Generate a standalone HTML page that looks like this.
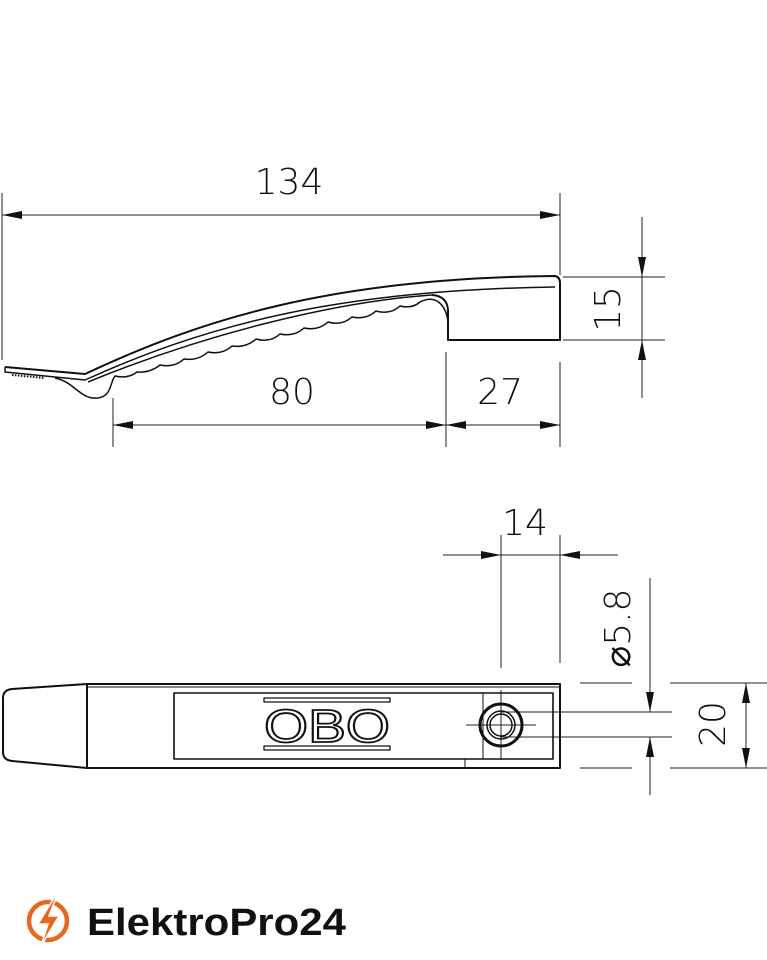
<!DOCTYPE html>
<html><head><meta charset="utf-8"><style>
html,body{margin:0;padding:0;background:#fff;width:767px;height:960px;overflow:hidden}
svg{display:block}
.t{font-family:"DejaVu Sans","Liberation Sans",sans-serif;font-weight:200;fill:#111}
</style></head><body>
<svg width="767" height="960" viewBox="0 0 767 960" xmlns="http://www.w3.org/2000/svg">
<defs>
<marker id="a" viewBox="0 0 10 4" refX="10" refY="2" markerWidth="28" markerHeight="8" markerUnits="userSpaceOnUse" orient="auto-start-reverse"><path d="M0,0 L10,2 L0,4z" fill="#111"/></marker>
</defs>
<g stroke="#222" stroke-width="1" fill="none">
<line x1="2" y1="193" x2="2" y2="360"/>
<line x1="560" y1="193" x2="560" y2="275"/>
<line x1="2" y1="215" x2="560" y2="215" marker-start="url(#a)" marker-end="url(#a)"/>
<line x1="113" y1="398" x2="113" y2="447"/>
<line x1="446" y1="352" x2="446" y2="447"/>
<line x1="560" y1="362" x2="560" y2="447"/>
<line x1="113" y1="425" x2="446" y2="425" marker-start="url(#a)" marker-end="url(#a)"/>
<line x1="446" y1="425" x2="560" y2="425" marker-start="url(#a)" marker-end="url(#a)"/>
<line x1="563" y1="277" x2="665" y2="277"/>
<line x1="563" y1="340" x2="665" y2="340"/>
<line x1="642" y1="217" x2="642" y2="277" marker-end="url(#a)"/>
<line x1="642" y1="398" x2="642" y2="340" marker-end="url(#a)"/>
<line x1="642" y1="277" x2="642" y2="340"/>
</g>
<g stroke="#111" stroke-width="2" fill="none" stroke-linejoin="round">
<path d="M5,367 L85,374 C200,320 330,278 555,276 Q560,277 560,283 L560,340 L448,340 L448,310 Q447,296 432,295"/>
<path d="M5,367 L5,372 L85,380 C200,328 330,290 555,287" stroke-width="1.5"/>
<path d="M88,382 C200,336 330,302 432,295" stroke-width="1.5"/>
<path d="M55,378 C75,382 80,400 98,398 C112,396 110,382 115,376 Q128,379 137,372 Q150,373 160,365 Q174,368 184,359 Q198,361 208,352 Q222,355 232,346 Q246,348 256,339 Q270,343 280,334 Q294,337 304,328 Q318,331 328,322 Q342,326 352,317 Q366,320 376,311 Q390,315 400,306 Q412,309 420,302 C436,294 446,305 448,322" stroke-width="1.5"/>
<path d="M12,375 L45,378" stroke-width="2" stroke-dasharray="1.5 1.5"/>
</g>
<text class="t" x="289" y="194" font-size="36" text-anchor="middle">134</text>
<text class="t" x="292" y="404" font-size="36" text-anchor="middle">80</text>
<text class="t" x="500" y="404" font-size="36" text-anchor="middle">27</text>
<text class="t" font-size="36" text-anchor="middle" transform="translate(620,309) rotate(-90)">15</text>

<g stroke="#222" stroke-width="1" fill="none">
<line x1="501" y1="535" x2="501" y2="668"/>
<line x1="560" y1="535" x2="560" y2="663"/>
<line x1="443" y1="555" x2="501" y2="555" marker-end="url(#a)"/>
<line x1="618" y1="555" x2="560" y2="555" marker-end="url(#a)"/>
<line x1="501" y1="555" x2="560" y2="555"/>
<line x1="500" y1="712" x2="672" y2="712"/>
<line x1="500" y1="737" x2="672" y2="737"/>
<line x1="650" y1="578" x2="650" y2="712" marker-end="url(#a)"/>
<line x1="650" y1="795" x2="650" y2="737" marker-end="url(#a)"/>
<line x1="580" y1="683" x2="632" y2="683"/>
<line x1="670" y1="683" x2="767" y2="683"/>
<line x1="580" y1="768" x2="632" y2="768"/>
<line x1="670" y1="768" x2="767" y2="768"/>
<line x1="746" y1="683" x2="746" y2="768" marker-start="url(#a)" marker-end="url(#a)"/>
<line x1="466" y1="725" x2="536" y2="725"/>
<line x1="501" y1="690" x2="501" y2="760"/>
</g>
<text class="t" x="525" y="535" font-size="36" text-anchor="middle">14</text>
<text class="t" font-size="36" text-anchor="middle" transform="translate(630,628) rotate(-90)">⌀5.8</text>
<text class="t" font-size="36" text-anchor="middle" transform="translate(725,724) rotate(-90)">20</text>

<g stroke="#111" fill="none" stroke-linejoin="round">
<path d="M87,684 L12,689 Q3,690 3,698 L3,752 Q3,760 12,761 L87,768" stroke-width="2"/>
<rect x="87" y="684" width="473" height="84" stroke-width="2"/>
<line x1="87" y1="687" x2="560" y2="687" stroke-width="1"/>
<rect x="174" y="693" width="379" height="66" stroke-width="1.6"/>
<line x1="483" y1="693" x2="483" y2="759" stroke-width="1"/>
<line x1="465" y1="759" x2="465" y2="768" stroke-width="1"/>
<circle cx="501" cy="725" r="21" stroke-width="3"/>
<circle cx="501" cy="725" r="14" stroke-width="1.5"/>
<circle cx="501" cy="725" r="11" stroke-width="1.5"/>
<rect x="264" y="698" width="126" height="4" stroke-width="1.3"/>
<rect x="264" y="746" width="126" height="4" stroke-width="1.3"/>
</g>
<text x="327" y="742" font-family="Liberation Sans,sans-serif" font-size="46" text-anchor="middle" fill="#fff" stroke="#111" stroke-width="1.8" textLength="126" lengthAdjust="spacingAndGlyphs">OBO</text>

<circle cx="48" cy="921" r="19" fill="none" stroke="#e8671c" stroke-width="4.5"/>
<path d="M54,898 L38,924 L48,924 L41,946 L59,916 L49,916 L56,898z" fill="#e8671c" stroke="#fff" stroke-width="1.5"/>
<text x="87" y="935" font-family="Liberation Sans,sans-serif" font-weight="700" font-size="38" fill="#111" textLength="259" lengthAdjust="spacingAndGlyphs">ElektroPro24</text>
</svg>
</body></html>
